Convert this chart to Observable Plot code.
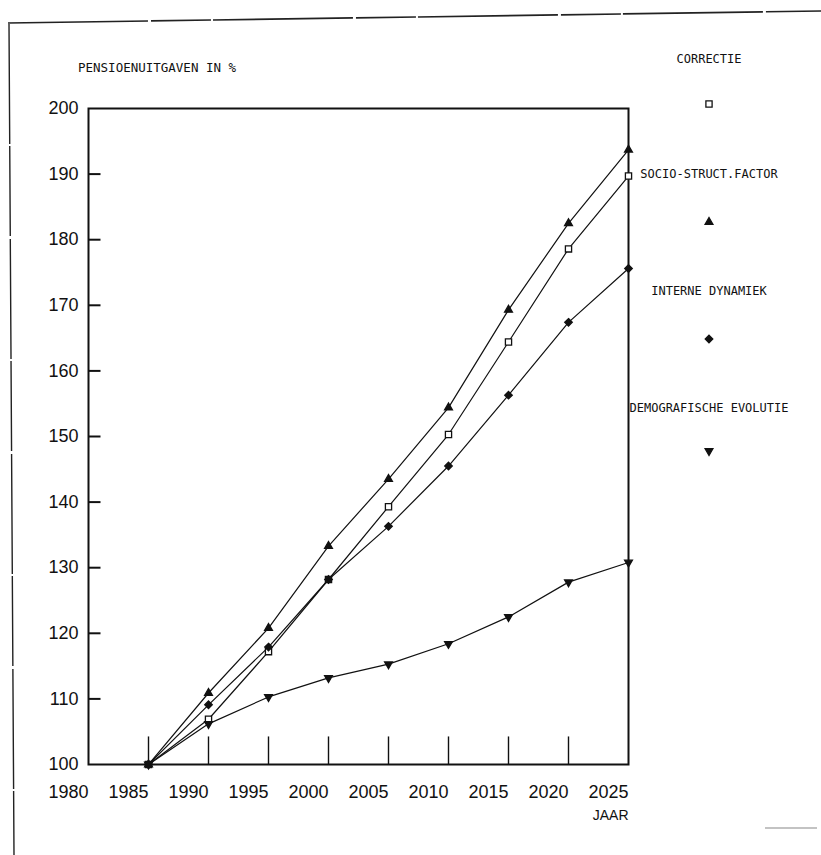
<!DOCTYPE html>
<html>
<head>
<meta charset="utf-8">
<script src="https://cdn.jsdelivr.net/npm/d3@7"></script>
<script src="https://cdn.jsdelivr.net/npm/@observablehq/plot@0.6"></script>
<style>
  body { margin: 0; background: #fff; }
  #wrap { position: relative; width: 821px; height: 855px; overflow: hidden; background: #fff; }
  #wrap > svg.plot { position: absolute; left: 0; top: 0; }
  .mono { position: absolute; font-family: "DejaVu Sans Mono", "Liberation Mono", monospace; font-size: 12px; color: #111; white-space: nowrap; line-height: 1; }
  .center { transform: translate(-50%, -50%); }
  .sym { position: absolute; transform: translate(-50%, -50%); }
</style>
</head>
<body>
<div id="wrap"></div>
<script>
// ---- data ----
const years = [1985, 1990, 1995, 2000, 2005, 2010, 2015, 2020, 2025];
const seriesNames = ["CORRECTIE", "SOCIO-STRUCT.FACTOR", "INTERNE DYNAMIEK", "DEMOGRAFISCHE EVOLUTIE"];
const correctie = [100, 106.9, 117.2, 128.2, 139.3, 150.3, 164.4, 178.6, 189.7];
const socio     = [100, 110.9, 120.8, 133.3, 143.5, 154.4, 169.3, 182.5, 193.7];
const interne   = [100, 109.1, 117.9, 128.2, 136.3, 145.5, 156.3, 167.4, 175.6];
const demo      = [100, 106.2, 110.3, 113.2, 115.3, 118.4, 122.5, 127.8, 130.8];
const yTicks = [100, 110, 120, 130, 140, 150, 160, 170, 180, 190, 200];
const xTicks = [1980, 1985, 1990, 1995, 2000, 2005, 2010, 2015, 2020, 2025];
const titleText = "PENSIOENUITGAVEN IN %";
const xLabel = "JAAR";

// ---- styles per series ----
const values = [correctie, socio, interne, demo];
const symbols = ["square", "triangle", "diamond2", "triangle"];
const rotations = [0, 0, 0, 180];
const fills = ["white", "#111", "#111", "#111"];
const radii = [3.5, 2.9, 3.4, 2.9];

const data = seriesNames.flatMap((name, i) =>
  years.map((yr, j) => ({ series: name, year: yr, value: values[i][j] })));

const ink = "#111";
const innerTickYears = years.slice(0, -1);
const innerYTicks = yTicks.slice(1, -1);
const yTickRows = innerYTicks.map(v => ({ value: v, from: xTicks[0], to: xTicks[0] + 1 }));

const plot = Plot.plot({
  width: 821,
  height: 855,
  marginLeft: 88,
  marginRight: 193,
  marginTop: 108,
  marginBottom: 91,
  style: { fontFamily: "'Liberation Sans', Arial, sans-serif", fontSize: "18px", color: ink, background: "transparent" },
  x: { domain: [1980, 2025] },
  y: { domain: [100, 200] },
  marks: [
    Plot.frame({ stroke: ink, strokeWidth: 2 }),
    // inward y ticks along the left frame (one x-unit ≈ 12px long)
    Plot.link(yTickRows, { x1: "from", x2: "to", y1: "value", y2: "value", stroke: ink, strokeWidth: 2 }),
    // upward x ticks at each data year
    Plot.ruleX(innerTickYears, { x: d => d, y1: () => 100, y2: () => 104.2, stroke: ink, strokeWidth: 1.4 }),
    Plot.axisY({ ticks: yTicks, tickSize: 0, tickPadding: 10, label: null, fontSize: 18 }),
    Plot.axisX({ ticks: xTicks, tickSize: 0, tickPadding: 21, tickFormat: d => String(d), textAnchor: "end", label: null, fontSize: 18 }),
    Plot.line(data, { x: "year", y: "value", z: "series", stroke: ink, strokeWidth: 1.2 }),
    ...seriesNames.map((name, i) =>
      Plot.dot(data.filter(d => d.series === name), {
        x: "year", y: "value", symbol: () => symbols[i], r: radii[i], rotate: rotations[i],
        fill: fills[i], stroke: ink, strokeWidth: 1.3
      })),
    Plot.text([xLabel], { frameAnchor: "bottom-right", dy: 55, textAnchor: "end", fontSize: 14, fill: ink })
  ]
});
plot.classList.add("plot");

const wrap = document.getElementById("wrap");

// decorative page border lines of the scanned sheet
const deco = d3.create("svg").attr("width", 821).attr("height", 855)
  .style("position", "absolute").style("left", 0).style("top", 0);
deco.append("line").attr("x1", 8).attr("y1", 23).attr("x2", 821).attr("y2", 11)
  .attr("stroke", "#222").attr("stroke-width", 1.6).attr("stroke-dasharray", "140 3 60 2");
deco.append("line").attr("x1", 9).attr("y1", 24).attr("x2", 14).attr("y2", 855)
  .attr("stroke", "#222").attr("stroke-width", 1.4).attr("stroke-dasharray", "120 2 90 3");
deco.append("line").attr("x1", 765).attr("y1", 828).attr("x2", 817).attr("y2", 828)
  .attr("stroke", "#888").attr("stroke-width", 1.2);
wrap.appendChild(deco.node());
wrap.appendChild(plot);

// title
const title = document.createElement("div");
title.className = "mono";
title.style.left = "78px";
title.style.top = "62px";
title.style.fontSize = "12.5px";
title.textContent = titleText;
wrap.appendChild(title);

// legend: label above symbol, right column
const legendLabelY = [59, 174, 291, 408];
const legendSymY = [104, 222, 339, 451];
const legendX = 709;
seriesNames.forEach((name, i) => {
  const lab = document.createElement("div");
  lab.className = "mono center";
  lab.style.left = legendX + "px";
  lab.style.top = legendLabelY[i] + "px";
  lab.textContent = name;
  wrap.appendChild(lab);

  const s = d3.create("svg").attr("class", "sym").attr("width", 16).attr("height", 16)
    .style("left", legendX + "px").style("top", legendSymY[i] + "px");
  const symMap = { square: d3.symbolSquare, triangle: d3.symbolTriangle, diamond2: d3.symbolDiamond2 };
  s.append("path")
    .attr("d", d3.symbol(symMap[symbols[i]], radii[i] * radii[i] * Math.PI)())
    .attr("transform", `translate(8,8) rotate(${rotations[i]})`)
    .attr("fill", fills[i]).attr("stroke", ink).attr("stroke-width", 1.3);
  wrap.appendChild(s.node());
});
</script>
</body>
</html>
